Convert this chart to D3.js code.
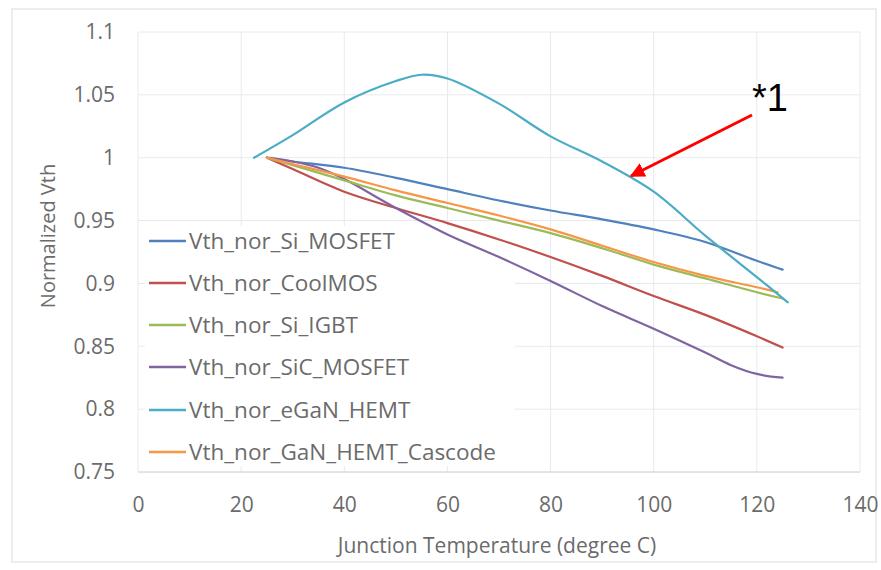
<!DOCTYPE html>
<html><head><meta charset="utf-8">
<script src="https://cdn.jsdelivr.net/npm/d3@7"></script>
<style>body{margin:0;background:#fff;} text{font-family:"Open Sans","Liberation Sans",sans-serif;}</style>
</head><body>
<svg id="c" width="881" height="570"></svg>
<script>
const seriesNames = ["Vth_nor_Si_MOSFET","Vth_nor_CoolMOS","Vth_nor_Si_IGBT","Vth_nor_SiC_MOSFET","Vth_nor_eGaN_HEMT","Vth_nor_GaN_HEMT_Cascode"];
const seriesColors = ["#4f81bd","#c0504d","#9bbb59","#8064a2","#4bacc6","#f79646"];
const xTicks = [0,20,40,60,80,100,120,140];
const yTicks = [0.75,0.8,0.85,0.9,0.95,1,1.05,1.1];
const yTickLabels = ["0.75","0.8","0.85","0.9","0.95","1","1.05","1.1"];

const tSiMOSFET = [25,30,40,50,60,70,80,90,100,110,120,125];
const vSiMOSFET = [1.0,0.997,0.992,0.984,0.975,0.966,0.958,0.951,0.943,0.933,0.918,0.911];
const tCoolMOS = [25,30,40,50,60,70,80,90,100,110,120,125];
const vCoolMOS = [1.0,0.991,0.973,0.960,0.948,0.935,0.921,0.906,0.890,0.875,0.858,0.849];
const tSiIGBT = [25,30,40,50,60,70,80,90,100,110,120,125];
const vSiIGBT = [1.0,0.994,0.982,0.970,0.960,0.950,0.940,0.928,0.915,0.904,0.893,0.888];
const tSiC = [25,30,35,40,50,60,70,80,90,100,110,115,120,125];
const vSiC = [1.0,0.997,0.992,0.983,0.960,0.939,0.921,0.902,0.882,0.864,0.845,0.835,0.828,0.825];
const tEGaN = [22.5,30,40,50,55,60,70,80,90,100,110,120,126];
const vEGaN = [1.0,1.018,1.044,1.061,1.066,1.063,1.043,1.017,0.997,0.973,0.938,0.905,0.885];
const tCascode = [25,30,40,50,60,70,80,90,100,110,120,124];
const vCascode = [1.0,0.995,0.985,0.974,0.964,0.954,0.943,0.930,0.917,0.906,0.897,0.893];

const xs = [tSiMOSFET,tCoolMOS,tSiIGBT,tSiC,tEGaN,tCascode];
const ys = [vSiMOSFET,vCoolMOS,vSiIGBT,vSiC,vEGaN,vCascode];

const svg = d3.select("#c");
const L=138,R=860,T=32,B=472;
const x = d3.scaleLinear().domain([0,140]).range([L,R]);
const y = d3.scaleLinear().domain([0.75,1.1]).range([B,T]);
const txt = "#6b6b6b";

svg.append("rect").attr("x",12).attr("y",9).attr("width",864).attr("height",553)
  .attr("fill","#fff").attr("stroke","#dcdcdc").attr("stroke-width",1);

// gridlines
svg.append("g").selectAll("line").data(yTicks).join("line")
  .attr("x1",L).attr("x2",R).attr("y1",d=>y(d)).attr("y2",d=>y(d))
  .attr("stroke","#e6eaf0").attr("stroke-width",1);
svg.append("g").selectAll("line").data(xTicks).join("line")
  .attr("y1",T).attr("y2",B).attr("x1",d=>x(d)).attr("x2",d=>x(d))
  .attr("stroke","#e6eaf0").attr("stroke-width",1);
svg.append("line").attr("x1",L).attr("x2",R).attr("y1",B).attr("y2",B).attr("stroke","#d0d5dc");

// axes labels
const xAxis = d3.axisBottom(x).tickValues(xTicks).tickSize(0).tickFormat(d3.format("d"));
const gx = svg.append("g").attr("transform",`translate(0,${B})`).call(xAxis);
gx.select(".domain").remove();
gx.selectAll("text").attr("fill",txt).style("font-size","21px").attr("dy","37px");
const yAxis = d3.axisLeft(y).tickValues(yTicks).tickSize(0).tickFormat((d,i)=>yTickLabels[i]);
const gy = svg.append("g").attr("transform",`translate(${L-20},0)`).call(yAxis);
gy.select(".domain").remove();
gy.selectAll("text").attr("fill",txt).style("font-size","21px");

svg.append("text").attr("x",497).attr("y",553).attr("text-anchor","middle")
  .attr("fill",txt).style("font-size","21px").text("Junction Temperature (degree C)");
svg.append("text").attr("transform","translate(55,236) rotate(-90)").attr("text-anchor","middle")
  .attr("fill",txt).style("font-size","20px").text("Normalized Vth");

// legend
const lg = svg.append("g");
lg.append("rect").attr("x",145).attr("y",226).attr("width",370).attr("height",240).attr("fill","#fff");
const legY = [241,283,325,367,410,452];
seriesNames.forEach((n,i)=>{
  lg.append("line").attr("x1",149).attr("x2",186).attr("y1",legY[i]).attr("y2",legY[i])
    .attr("stroke",seriesColors[i]).attr("stroke-width",2.5);
  lg.append("text").attr("x",189).attr("y",legY[i]).attr("dy","0.36em")
    .attr("fill",txt).style("font-size","22.5px").text(n);
});

// lines
const line = d3.line().x(d=>x(d[0])).y(d=>y(d[1])).curve(d3.curveCatmullRom.alpha(0.5));
const order = [0,1,3,2,5,4];
order.forEach(i=>{
  const pts = xs[i].map((t,j)=>[t,ys[i][j]]);
  svg.append("path").datum(pts).attr("d",line).attr("fill","none")
    .attr("stroke",seriesColors[i]).attr("stroke-width",2.2).attr("stroke-linecap","round");
});

// annotation
svg.append("defs").append("marker").attr("id","ah").attr("viewBox","0 0 10 10")
  .attr("refX",9).attr("refY",5).attr("markerWidth",5).attr("markerHeight",5)
  .attr("orient","auto").append("path").attr("d","M0,0L10,5L0,10z").attr("fill","#ff0000");
svg.append("line").attr("x1",752).attr("y1",115).attr("x2",631).attr("y2",176)
  .attr("stroke","#ff0000").attr("stroke-width",3).attr("marker-end","url(#ah)");
svg.append("text").attr("x",752).attr("y",111).attr("fill","#000")
  .style("font-size","38px").style("font-family","'Liberation Sans',Arial,sans-serif").text("*1");
</script>
</body></html>
